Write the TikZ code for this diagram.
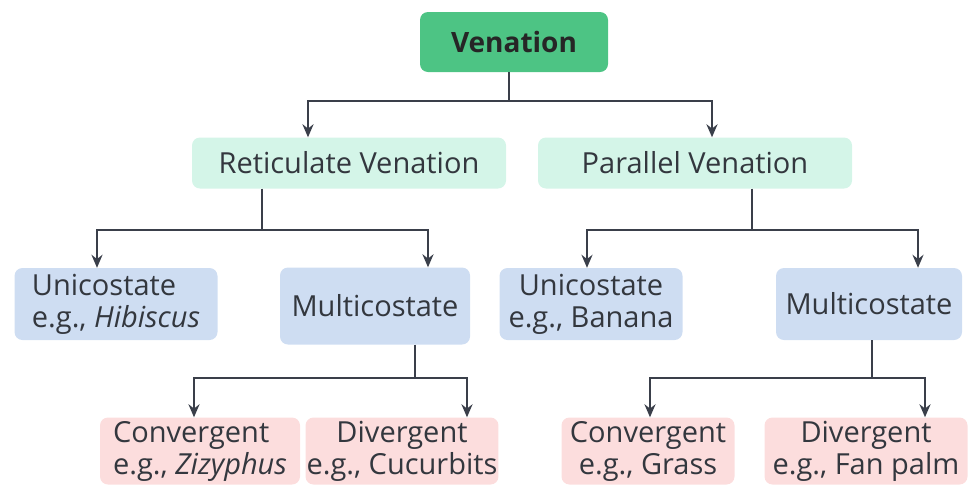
\documentclass[tikz,border=0pt]{standalone}
\usepackage{fontspec}
\setmainfont{Open Sans}
\usetikzlibrary{arrows.meta}
\definecolor{topgreen}{RGB}{77,196,132}
\definecolor{lightgreen}{RGB}{212,245,232}
\definecolor{lightblue}{RGB}{206,221,242}
\definecolor{lightpink}{RGB}{252,221,221}
\definecolor{txt}{RGB}{51,55,62}
\definecolor{wire}{RGB}{58,63,74}
\tikzset{
	box/.style={rounded corners=8pt, inner sep=1pt, text=txt, font=\fontsize{29}{32}\selectfont, align=center},
	line/.style={draw=wire, line width=2.3pt},
	arr/.style={line, -{Stealth[length=13pt,width=11pt]}}
}

\begin{document}
\begin{tikzpicture}[x=1pt, y=-1pt]
		\useasboundingbox (0,0) rectangle (971,488);
		\node[box, fill=topgreen, minimum width=188pt, minimum height=60pt, font=\fontsize{28}{30}\selectfont\bfseries, text=black!85] (ven) at (514, 42) {Venation};
		
		\node[box, fill=lightgreen, minimum width=314pt, minimum height=51pt] (ret) at (349, 163) {Reticulate Venation};
		\node[box, fill=lightgreen, minimum width=314pt, minimum height=51pt] (par) at (695, 163) {Parallel Venation};
		
		\node[box, fill=lightblue, minimum width=203pt, minimum height=72pt, align=left] (uni1) at (116, 304) {Unicostate\\e.g., \textit{Hibiscus}};
		\node[box, fill=lightblue, minimum width=190pt, minimum height=77pt] (mul1) at (375, 306) {Multicostate};
		\node[box, fill=lightblue, minimum width=183pt, minimum height=72pt] (uni2) at (591, 304) {Unicostate\\e.g., Banana};
		\node[box, fill=lightblue, minimum width=186pt, minimum height=72pt] (mul2) at (869, 304) {Multicostate};
		
		\node[box, fill=lightpink, minimum width=200pt, minimum height=67pt, align=left] (con1) at (200, 451) {Convergent\\e.g., \textit{Zizyphus}};
		\node[box, fill=lightpink, minimum width=191pt, minimum height=67pt] (div1) at (402, 451) {Divergent\\e.g., Cucurbits};
		\node[box, fill=lightpink, minimum width=173pt, minimum height=67pt] (con2) at (648, 451) {Convergent\\e.g., Grass};
		\node[box, fill=lightpink, minimum width=203pt, minimum height=67pt] (div2) at (866, 451) {Divergent\\e.g., Fan palm};
		
		% branch points
		\coordinate (j0) at (509, 101);
		\coordinate (j1) at (262, 230);
		\coordinate (j2) at (752, 230);
		\coordinate (j3) at (415, 378);
		\coordinate (j4) at (872, 378);
		
		\draw[line] (ven.south -| j0) -- (j0);
		\draw[arr] (j0) -| ([xshift=-41pt]ret.north);
		\draw[arr] (j0) -| ([xshift=17pt]par.north);
		
		\draw[line] (ret.south -| j1) -- (j1);
		\draw[arr] (j1) -| ([xshift=-19pt]uni1.north);
		\draw[arr] (j1) -| ([xshift=53pt]mul1.north);
		
		\draw[line] (par.south -| j2) -- (j2);
		\draw[arr] (j2) -| ([xshift=-4pt]uni2.north);
		\draw[arr] (j2) -| ([xshift=49pt]mul2.north);
		
		\draw[line] (mul1.south -| j3) -- (j3);
		\draw[arr] (j3) -| ([xshift=-6pt]con1.north);
		\draw[arr] (j3) -| ([xshift=65pt]div1.north);
		
		\draw[line] (mul2.south -| j4) -- (j4);
		\draw[arr] (j4) -| ([xshift=2pt]con2.north);
		\draw[arr] (j4) -| ([xshift=59pt]div2.north);
	\end{tikzpicture}
\end{document}
